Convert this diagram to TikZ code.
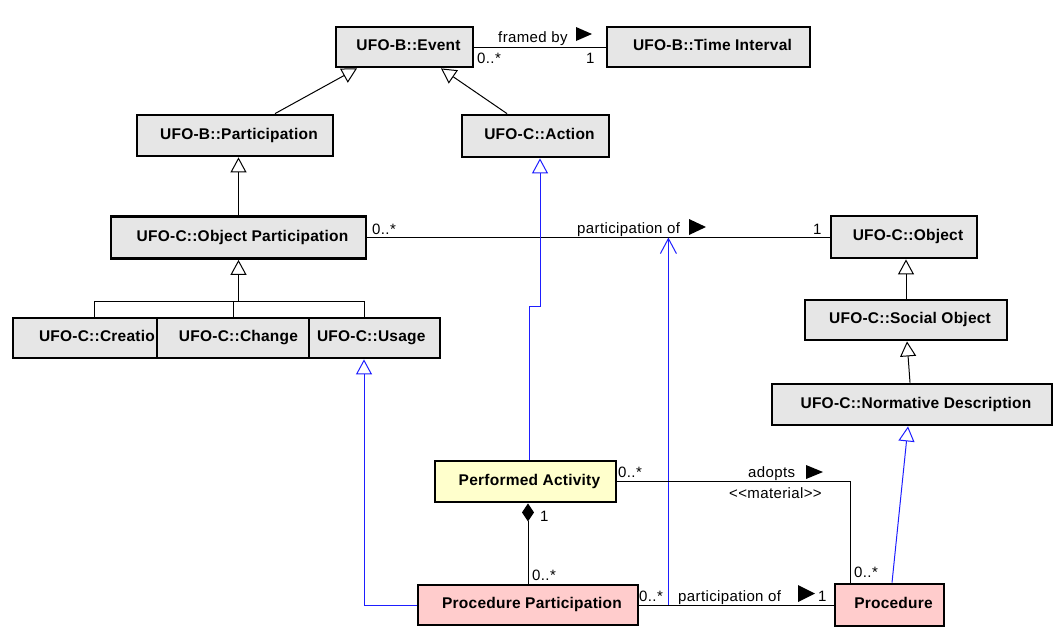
\documentclass[tikz,border=0pt]{standalone}
\usepackage{fontspec}
\setmainfont{Liberation Sans}
\newfontfamily\boxfont[LetterSpace=1.5]{Liberation Sans}
\newfontfamily\lblfont[LetterSpace=2.5,Ligatures=TeXOff]{Liberation Sans}
\usetikzlibrary{arrows.meta,calc}
\definecolor{boxgray}{RGB}{230,230,230}
\definecolor{boxyellow}{RGB}{255,255,204}
\definecolor{boxpink}{RGB}{255,204,204}
\definecolor{genblue}{RGB}{30,30,255}
\begin{document}
\begin{tikzpicture}[x=1pt,y=-1pt,
  box/.style={draw, line width=2.8pt, fill=boxgray, inner sep=0pt,
    font=\boxfont\bfseries\fontsize{15.5}{18}\selectfont,
    text height=11pt, text depth=4pt, execute at begin node={\hspace*{8pt}}},
  plainbox/.style={box, execute at begin node={}},
  lbl/.style={font=\lblfont\fontsize{15}{17}\selectfont, inner sep=0pt, anchor=base west},
  assoc/.style={line width=1pt},
  gen/.style={line width=1pt, -{Triangle[open,length=15pt,width=16pt]}},
  bgen/.style={gen, draw=genblue},
  bdep/.style={line width=1pt, draw=genblue, -{Straight Barb[length=15pt,width=16pt]}},
  comp/.style={line width=1pt, {Diamond[length=18pt,width=12pt]}-}
]
\useasboundingbox (0,0) rectangle (1064,638);

% boxes
\node[box, minimum width=137pt, minimum height=40pt] (ev) at (404.5,47) {UFO-B::Event};
\node[box, minimum width=203pt, minimum height=40pt] (ti) at (708.5,47) {UFO-B::Time Interval};
\node[box, minimum width=196pt, minimum height=41pt] (bpart) at (235,135.5) {UFO-B::Participation};
\node[box, minimum width=147pt, minimum height=42pt] (act) at (535.5,136) {UFO-C::Action};
\node[box, minimum width=255pt, minimum height=42pt] (op) at (238.5,237.5) {UFO-C::Object Participation};
\node[box, minimum width=146pt, minimum height=42pt] (obj) at (904,237) {UFO-C::Object};
\node[plainbox, minimum width=144pt, minimum height=40pt] (cre) at (85,338) {\makebox[100pt][l]{UFO-C::Creation}};
\node[box, minimum width=155pt, minimum height=40pt] (chg) at (234.5,338) {UFO-C::Change};
\node[plainbox, minimum width=125pt, minimum height=40pt] (usg) at (374.5,338) {\makebox[123pt][l]{UFO-C::Usage}};
\node[box, minimum width=202pt, minimum height=40pt] (soc) at (906,320) {UFO-C::Social Object};
\node[box, minimum width=280pt, minimum height=41pt] (nd) at (912,404.5) {UFO-C::Normative Description};
\node[plainbox, fill=boxyellow, minimum width=181pt, minimum height=41pt] (pa) at (525.5,481.5) {Performed Activity};
\node[plainbox, fill=boxpink, minimum width=220pt, minimum height=40pt] (pp) at (528,605) {Procedure Participation};
\node[plainbox, fill=boxpink, minimum width=109pt, minimum height=42pt] (proc) at (889.5,605) {Procedure};

% framed by
\draw[assoc] (ev.east) -- (ti.west);
\node[lbl] (l1) at (498,42) {framed by};
\fill (576,27) -- (576,41) -- (592,34) -- cycle;
\node[lbl] (l2) at (477,63) {0..*};
\node[lbl] (l3) at (586,63) {1};

% generalizations (black)
\draw[gen] ([xshift=40pt]bpart.north) -- ([xshift=-47.5pt]ev.south);
\draw[gen] ([xshift=-28.5pt]act.north) -- ([xshift=36.5pt]ev.south);
\draw[gen] (op.north) -- (op.north |- bpart.south);
\coordinate (tj) at ($(op.south)+(0,42)$);
\draw[gen] (tj) -- (op.south);
\draw[assoc] ([xshift=9pt]cre.north) |- (tj) -| ([xshift=-10.5pt]usg.north);
\draw[assoc] ([xshift=-1.5pt]chg.north) -- ([xshift=-1.5pt]chg.north |- tj);
\draw[gen] (soc.north) -- (soc.north |- obj.south);
\draw[gen] ([xshift=-2pt]nd.north) -- ([xshift=1pt]soc.south);

% participation of (upper)
\draw[assoc] (op.east) -- (op.east -| obj.west);
\node[lbl] (l4) at (372,234) {0..*};
\node[lbl] (l5) at (577,233) {participation of};
\fill (689,219) -- (689,235) -- (706,227) -- cycle;
\node[lbl] (l6) at (813,234) {1};

% blue generalizations
\draw[bgen] ([xshift=3.5pt]pa.north) -- ++(0,-153) -| ([xshift=4.5pt]act.south);
\draw[bgen] (pp.west) -| ([xshift=-10.5pt]usg.south);
\draw[bgen] ([xshift=2.5pt]proc.north) -- ([xshift=-4pt]nd.south);
\coordinate (pc) at ([xshift=29pt]pp.east);
\draw[bdep] (pc) -- (pc |- op.east);

% composition
\draw[comp] ([xshift=2.5pt]pa.south) -- (pp.north);
\node[lbl] (l7) at (540,521) {1};
\node[lbl] (l8) at (532,580) {0..*};

% adopts
\draw[assoc] (pa.east) -| ([xshift=17pt]proc.north west);
\node[lbl] (l9) at (618,477) {0..*};
\node[lbl] (l10) at (748,477) {adopts};
\fill (806,465) -- (806,479) -- (823,472) -- cycle;
\node[lbl] (l11) at (729,498) {<<material>>};
\node[lbl] (l12) at (854,577) {0..*};

% participation of (lower)
\draw[assoc] (pp.east) -- (proc.west);
\node[lbl] (l13) at (639,601) {0..*};
\node[lbl] (l14) at (678,601) {participation of};
\fill (798,585) -- (798,602) -- (815,593.5) -- cycle;
\node[lbl] (l15) at (818,601) {1};
\end{tikzpicture}
\end{document}
